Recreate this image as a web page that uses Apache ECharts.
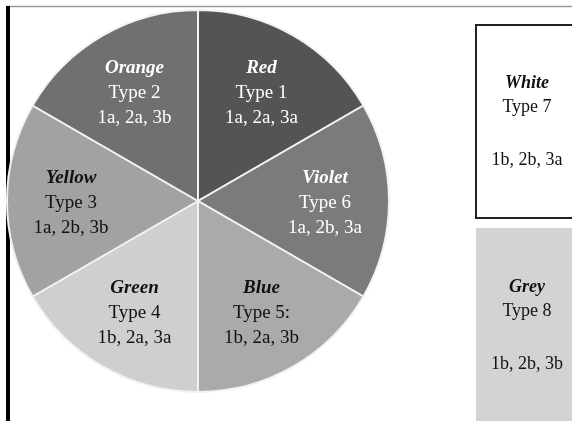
<!DOCTYPE html>
<html><head><meta charset="utf-8">
<script src="https://cdn.jsdelivr.net/npm/echarts@6/dist/echarts.min.js"></script>
<style>html,body{margin:0;padding:0;background:#fff}#c{width:572px;height:421px}</style>
</head><body><div id="c"></div>
<script>
// Pie slices, clockwise from the top
var names = ['Red', 'Violet', 'Blue', 'Green', 'Yellow', 'Orange'];
var types = ['Type 1', 'Type 6', 'Type 5:', 'Type 4', 'Type 3', 'Type 2'];
var codes = ['1a, 2a, 3a', '1a, 2b, 3a', '1b, 2a, 3b', '1b, 2a, 3a', '1a, 2b, 3b', '1a, 2a, 3b'];
var values = [1, 1, 1, 1, 1, 1];
var sliceColors = ['#545454', '#7b7b7b', '#aaaaaa', '#cfcfcf', '#a2a2a2', '#707070'];
var textColors = ['#ffffff', '#ffffff', '#111111', '#111111', '#111111', '#ffffff'];
// Boxes outside the pie
var boxNames = ['White', 'Grey'];
var boxTypes = ['Type 7', 'Type 8'];
var boxCodes = ['1b, 2b, 3a', '1b, 2b, 3b'];

var font = '"Liberation Serif", "DejaVu Serif", serif';
var chart = echarts.init(document.getElementById('c'), null, {renderer: 'canvas'});

var sliceData = names.map(function (n, i) {
  return {name: n, value: values[i], itemStyle: {color: sliceColors[i]}};
});
var labelData = names.map(function (n, i) {
  return {
    name: n, value: values[i],
    label: {
      formatter: '{n|' + n + '}\n{t|' + types[i] + '}\n{t|' + codes[i] + '}',
      color: textColors[i],
      rich: {
        n: {fontFamily: font, fontSize: 19, fontWeight: 'bold', fontStyle: 'italic', color: textColors[i], lineHeight: 25},
        t: {fontFamily: font, fontSize: 19, color: textColors[i], lineHeight: 25}
      }
    }
  };
});

function boxText(i) {
  return {
    rich: {
      n: {fontFamily: font, fontSize: 18, fontWeight: 'bold', fontStyle: 'italic', fill: '#111', lineHeight: 24},
      t: {fontFamily: font, fontSize: 18, fill: '#111', lineHeight: 24},
      g: {fontSize: 18, lineHeight: 29}
    },
    text: '{n|' + boxNames[i] + '}\n{t|' + boxTypes[i] + '}\n{g| }\n{t|' + boxCodes[i] + '}',
    align: 'center', verticalAlign: 'middle'
  };
}

chart.setOption({
  animation: false,
  series: [
    {
      type: 'pie', silent: true, center: [198, 201], radius: [0, 191],
      startAngle: 90, clockwise: true,
      label: {show: false}, labelLine: {show: false},
      itemStyle: {borderColor: '#f2f2f2', borderWidth: 2},
      data: sliceData
    },
    {
      type: 'pie', silent: true, center: [198, 203], radius: [60, 188],
      startAngle: 90, clockwise: true,
      itemStyle: {color: 'rgba(0,0,0,0)', borderWidth: 0},
      label: {show: true, position: 'inside', align: 'center'},
      labelLine: {show: false},
      data: labelData
    }
  ],
  graphic: [
    {type: 'line', shape: {x1: 6, y1: 6.5, x2: 572, y2: 6.5}, style: {stroke: '#9a9a9a', lineWidth: 1.5}},
    {type: 'rect', shape: {x: 6, y: 6, width: 4, height: 415}, style: {fill: '#000'}},
    {type: 'rect', shape: {x: 476, y: 25, width: 110, height: 193}, style: {fill: '#fff', stroke: '#222', lineWidth: 2}},
    {type: 'text', x: 527, y: 122, style: boxText(0)},
    {type: 'rect', shape: {x: 476, y: 228, width: 110, height: 200}, style: {fill: '#d3d3d3'}},
    {type: 'text', x: 527, y: 326, style: boxText(1)}
  ]
});
</script></body></html>
